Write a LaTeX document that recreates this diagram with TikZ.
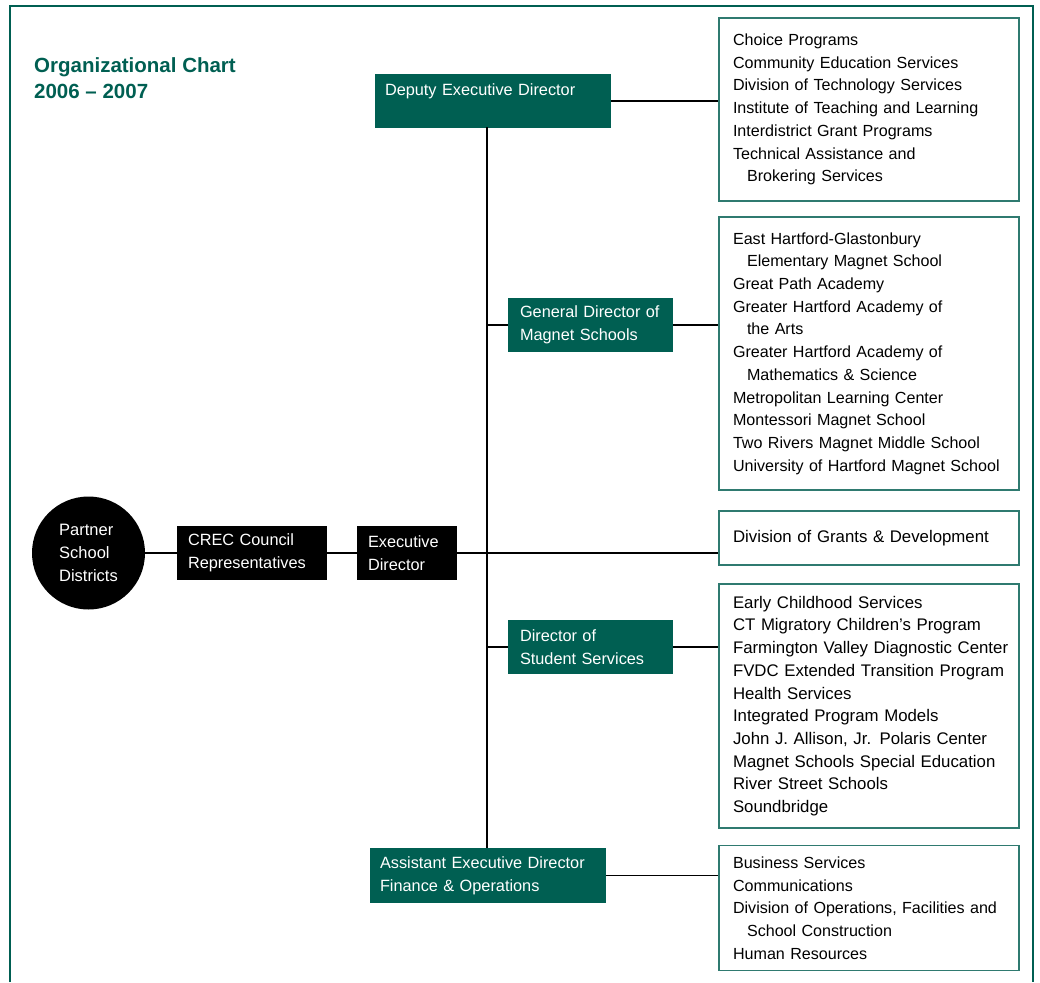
\documentclass[tikz,border=0pt]{standalone}
\usepackage{fontspec}
\setmainfont{Liberation Sans}
\definecolor{crecgreen}{HTML}{005F52}
\definecolor{listline}{HTML}{2F7A70}
\begin{document}
\begin{tikzpicture}[x=1pt,y=-1pt,
  greenbox/.style={fill=crecgreen,text=white,inner xsep=10pt,inner ysep=0pt,align=left,
    font=\fontsize{16.3}{23}\selectfont},
  blackbox/.style={fill=black,text=white,inner xsep=11pt,inner ysep=0pt,align=left,
    minimum height=54pt,font=\fontsize{16.3}{23}\selectfont},
  listbox/.style={draw=listline,line width=1.2pt,text width=272pt,inner xsep=14pt,
    inner ysep=0pt,align=left,font=\fontsize{16.1}{22.7}\selectfont},
  biglist/.style={listbox,font=\fontsize{16.8}{22.7}\selectfont},
  link/.style={line width=1.3pt}]
\useasboundingbox (0,0) rectangle (1040,982);
% frame and title
\draw[crecgreen,line width=2.6pt] (10,982) -- (10,6) -- (1033,6) -- (1033,982);
\node[anchor=north west,align=left,text=crecgreen,inner sep=0pt,
  font=\fontsize{20.5}{26}\selectfont\bfseries] (title) at (34,57)
  {Organizational Chart\\2006 -- 2007};

% left chain
\node[circle,fill=black,text=white,minimum size=113pt,inner sep=0pt,align=left,
  font=\fontsize{16.5}{23}\selectfont] (partner) at (88.5,553) {Partner\\School\\Districts};
\node[blackbox,text width=128pt] (crec) at (252,553) {CREC Council\\Representatives};
\node[blackbox,text width=78pt] (exec) at (407,553) {Executive\\Director};

% directors
\node[greenbox,text width=216pt,minimum height=54pt] (deputy) at (493,101)
  {Deputy Executive Director\\\mbox{}};
\node[greenbox,text width=141pt,inner xsep=12pt,minimum height=54pt] (magnet) at (590.5,325)
  {General Director of\\Magnet Schools};
\node[greenbox,text width=141pt,inner xsep=12pt,minimum height=54pt] (student) at (590.5,647)
  {Director of\\Student Services};
\node[greenbox,text width=216pt,minimum height=55pt] (assist) at (488,875.5)
  {Assistant Executive Director\\Finance \& Operations};

% department lists
\node[listbox,minimum height=183pt] (deplist) at (869,109.5)
  {Choice Programs\\Community Education Services\\Division of Technology Services\\
   Institute of Teaching and Learning\\Interdistrict Grant Programs\\
   Technical Assistance and\\\hspace*{14pt}Brokering Services};
\node[listbox,minimum height=273pt] (maglist) at (869,353.5)
  {East Hartford-Glastonbury\\\hspace*{14pt}Elementary Magnet School\\Great Path Academy\\
   Greater Hartford Academy of\\\hspace*{14pt}the Arts\\
   Greater Hartford Academy of\\\hspace*{14pt}Mathematics \& Science\\
   Metropolitan Learning Center\\Montessori Magnet School\\
   Two Rivers Magnet Middle School\\University of Hartford Magnet School};
\node[biglist,minimum height=54pt] (grants) at (869,538)
  {Division of Grants \& Development};
\node[biglist,minimum height=244pt] (stulist) at (869,706)
  {Early Childhood Services\\CT Migratory Children’s Program\\
   \mbox{Farmington Valley Diagnostic Center}\\\mbox{FVDC Extended Transition Program}\\
   Health Services\\Integrated Program Models\\John J. Allison, Jr. Polaris Center\\
   Magnet Schools Special Education\\River Street Schools\\Soundbridge};
\node[listbox,minimum height=125pt] (finlist) at (869,908)
  {Business Services\\Communications\\Division of Operations, Facilities and\\
   \hspace*{14pt}School Construction\\Human Resources};

% connectors
\coordinate (trunktop) at (487,127);
\coordinate (trunkbot) at (487,848);
\draw[link] (trunktop) -- (trunkbot);
\draw[link] (partner) -- (crec);
\draw[link] (crec) -- (exec);
\draw[link] (exec.east) -- (exec.east -| grants.west);
\draw[link] (deputy.east) -- (deputy.east -| deplist.west);
\draw[link] (magnet.west -| trunktop) -- (magnet.west);
\draw[link] (magnet.east) -- (magnet.east -| maglist.west);
\draw[link] (student.west -| trunktop) -- (student.west);
\draw[link] (student.east) -- (student.east -| stulist.west);
\draw[link] (assist.east) -- (assist.east -| finlist.west);
\end{tikzpicture}
\end{document}
